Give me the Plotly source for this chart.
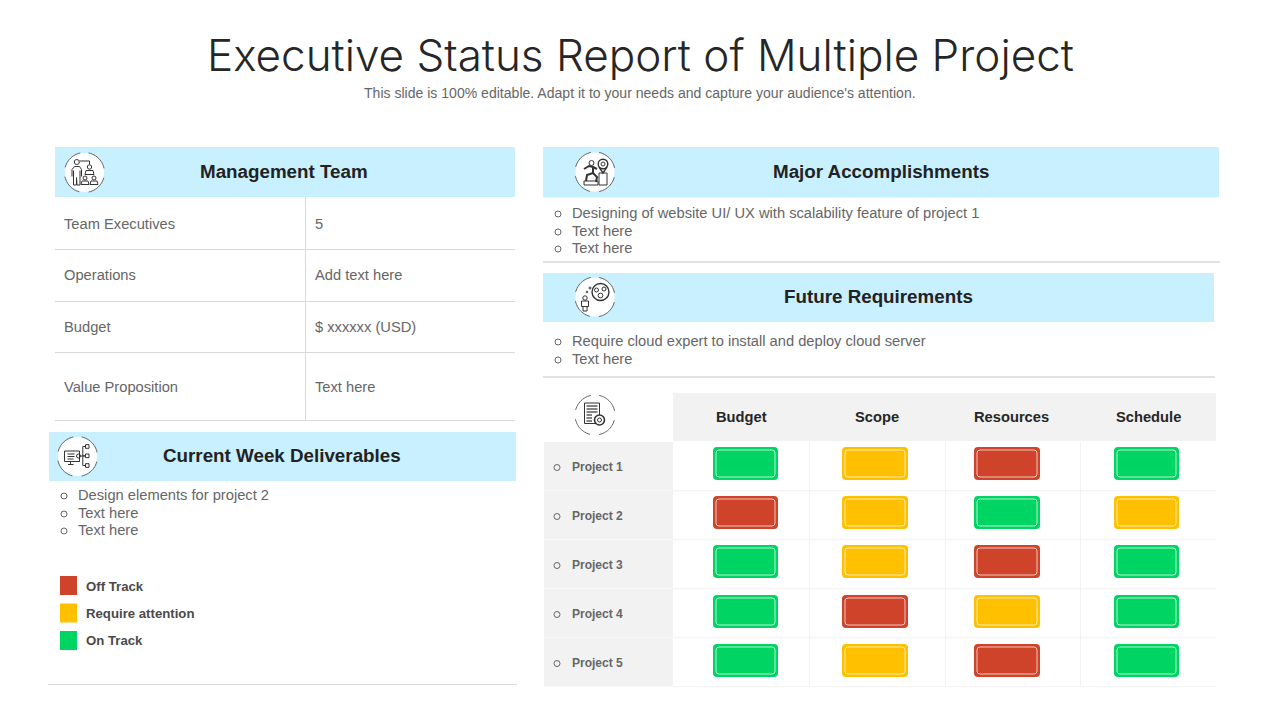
import math
import plotly.graph_objects as go

title = "Executive Status Report of Multiple Project"
subtitle = "This slide is 100% editable. Adapt it to your needs and capture your audience's attention."

team_labels = ["Team Executives", "Operations", "Budget", "Value Proposition"]
team_values = ["5", "Add text here", "$ xxxxxx (USD)", "Text here"]

deliverables = ["Design elements for project 2", "Text here", "Text here"]
accomplishments = ["Designing of website UI/ UX with scalability feature of project 1", "Text here", "Text here"]
requirements = ["Require cloud expert to install and deploy cloud server", "Text here"]

legend_labels = ["Off Track", "Require attention", "On Track"]
legend_status = ["R", "Y", "G"]

columns = ["Budget", "Scope", "Resources", "Schedule"]
projects = ["Project 1", "Project 2", "Project 3", "Project 4", "Project 5"]
status = [
    ["G", "Y", "R", "G"],
    ["R", "Y", "G", "Y"],
    ["G", "Y", "R", "G"],
    ["G", "R", "Y", "G"],
    ["G", "Y", "R", "G"],
]

colors = {"R": "#D0432B", "Y": "#FFC000", "G": "#00D563"}
HEAD_BG = "#C9F0FF"
GREY_BG = "#F2F2F2"
RULE = "#D9D9D9"
BODY = "#666666"
DARK = "#222222"
INK = "#333333"

shapes = []
notes = []


def rect(x0, y0, x1, y1, fill):
    shapes.append(dict(type="rect", x0=x0, y0=y0, x1=x1, y1=y1, fillcolor=fill, line_width=0, layer="below"))


def hline(x0, x1, y, color=RULE, width=1):
    shapes.append(dict(type="line", x0=x0, x1=x1, y0=y, y1=y, layer="below", line=dict(color=color, width=width)))


def vline(x, y0, y1, color=RULE, width=1):
    shapes.append(dict(type="line", x0=x, x1=x, y0=y0, y1=y1, layer="below", line=dict(color=color, width=width)))


def label(x, y, text, size=14.7, color=BODY, bold=False, anchor="left"):
    notes.append(dict(x=x, y=y, text=f"<b>{text}</b>" if bold else text, showarrow=False,
                      xanchor=anchor, yanchor="middle", borderpad=0, borderwidth=0,
                      font=dict(family="Liberation Sans", size=size, color=color)))


def rounded_path(x0, y0, x1, y1, r):
    return (f"M{x0 + r},{y0} L{x1 - r},{y0} Q{x1},{y0} {x1},{y0 + r} L{x1},{y1 - r} Q{x1},{y1} {x1 - r},{y1} "
            f"L{x0 + r},{y1} Q{x0},{y1} {x0},{y1 - r} L{x0},{y0 + r} Q{x0},{y0} {x0 + r},{y0} Z")


def badge(x0, y0, x1, y1, fill):
    shapes.append(dict(type="path", path=rounded_path(x0, y0, x1, y1, 4), fillcolor=fill, line_width=0, layer="below"))
    shapes.append(dict(type="path", path=rounded_path(x0 + 3, y0 + 3, x1 - 3, y1 - 3, 3), layer="below",
                       fillcolor=fill, line=dict(color="rgba(255,255,255,0.7)", width=1)))


def arc_path(cx, cy, r, a0, a1):
    pts = []
    for i in range(13):
        a = math.radians(a0 + (a1 - a0) * i / 12)
        pts.append(f"{cx + r * math.cos(a):.2f},{cy + r * math.sin(a):.2f}")
    return "M" + " L".join(pts)


def circle(cx, cy, r, fill="rgba(0,0,0,0)", color=INK, width=1):
    shapes.append(dict(type="circle", x0=cx - r, x1=cx + r, y0=cy - r, y1=cy + r, fillcolor=fill,
                       line=dict(color=color, width=width)))


def stroke(cx, cy, pts, width=1, close=False):
    path = "M" + " L".join(f"{cx + px},{cy + py}" for px, py in pts) + (" Z" if close else "")
    shapes.append(dict(type="path", path=path, line=dict(color=INK, width=width)))


def box(cx, cy, x0, y0, x1, y1):
    stroke(cx, cy, [(x0, y0), (x1, y0), (x1, y1), (x0, y1)], close=True)


def ring(cx, cy):
    shapes.append(dict(type="circle", x0=cx - 19.5, x1=cx + 19.5, y0=cy - 19.5, y1=cy + 19.5,
                       fillcolor="#FFFFFF", line_width=0))
    for a0, a1 in [(-78, -12), (15, 78), (105, 168), (195, 258)]:
        shapes.append(dict(type="path", path=arc_path(cx, cy, 20, a0, a1), line=dict(color="#666666", width=1)))


def icon_team(cx, cy):
    ring(cx, cy)
    circle(cx - 7.7, cy - 10.5, 2.5)
    stroke(cx, cy, [(-12.5, 4), (-12.5, -3), (-10, -6), (-5, -6), (-3, -3), (-3, 4)])
    stroke(cx, cy, [(-11, -2), (-11, 12.5), (-8, 12.5), (-8, 5), (-7.5, 12.5), (-4.5, 12.5), (-4.5, -2)])
    stroke(cx, cy, [(-5, -11.5), (5, -11.5), (5, -8)])
    circle(cx + 5, cy - 5.5, 2.2)
    stroke(cx, cy, [(0.5, 2), (1.5, -2), (8.5, -2), (9.5, 2)], close=True)
    for dx in (0.5, 9.5):
        circle(cx + dx, cy + 5.5, 2)
        stroke(cx, cy, [(dx - 4, 12), (dx - 3, 8.5), (dx + 3, 8.5), (dx + 4, 12)], close=True)


def icon_climb(cx, cy):
    ring(cx, cy)
    circle(cx - 3.5, cy - 9, 2.5)
    stroke(cx, cy, [(-11, -3), (-6, -6), (-2, -5), (-2, 1), (-8, 3), (-9, 9)], width=2)
    stroke(cx, cy, [(-2, 1), (2, 5), (1, 10)], width=2)
    stroke(cx, cy, [(-2, -5), (2, -3)], width=2)
    circle(cx + 8, cy - 8, 4.8, width=1.4)
    circle(cx + 8, cy - 8, 2)
    stroke(cx, cy, [(4, -5), (8, 1), (12, -5)], width=1.4)
    box(cx, cy, 4, 1, 12, 13)
    box(cx, cy, -11, 9, 3, 13)


def icon_future(cx, cy):
    ring(cx, cy)
    circle(cx - 10, cy + 1, 2.2)
    box(cx, cy, -13.5, 4, -6.5, 9.5)
    stroke(cx, cy, [(-12, 9.5), (-12, 14), (-8, 14), (-8, 9.5)])
    circle(cx + 5.5, cy - 5, 8.5, width=1.4)
    circle(cx + 1.5, cy - 7, 2)
    circle(cx + 9, cy - 8, 2)
    circle(cx + 5.5, cy - 1.5, 2.4)
    circle(cx - 5, cy - 9, 1)
    circle(cx - 8, cy - 5, 0.8)


def icon_deliver(cx, cy):
    ring(cx, cy)
    box(cx, cy, -13, -5.5, 2, 5)
    stroke(cx, cy, [(-10, -2.5), (-3, -2.5)])
    stroke(cx, cy, [(-10, 0), (-3, 0)])
    stroke(cx, cy, [(-10, 2.5), (-4, 2.5)])
    stroke(cx, cy, [(-7, 5), (-7, 8)])
    stroke(cx, cy, [(-9.5, 8), (-4, 8)])
    circle(cx + 1, cy - 0.5, 2)
    stroke(cx, cy, [(3, -0.5), (8, -0.5)])
    stroke(cx, cy, [(5.3, -10), (5.3, 9)])
    for dy in (-10, -0.7, 9):
        stroke(cx, cy, [(5.3, dy), (8, dy)])
        box(cx, cy, 8, dy - 1.8, 11.5, dy + 1.8)


def icon_doc(cx, cy):
    ring(cx, cy)
    box(cx, cy, -10.5, -12, 4.5, 8.5)
    for i, dy in enumerate((-9, -6, -3, 0, 3, 6)):
        stroke(cx, cy, [(-8.5, dy), (2.5 if i < 3 else -3, dy)], width=1.2)
    circle(cx + 4.5, cy + 5, 5, fill="#FFFFFF", width=1.6)
    circle(cx + 4.5, cy + 5, 2)


# title
notes.append(dict(x=640.5, y=55, text=title, showarrow=False, xanchor="center", yanchor="middle", borderwidth=0,
                  font=dict(family="Inter", size=44, color="#262626", weight=300)))
label(639.5, 93, subtitle, size=14.05, anchor="center")

# management team table
rect(55, 147, 515, 197, HEAD_BG)
icon_team(84.5, 172.5)
label(284, 171.5, "Management Team", size=18.8, color=DARK, bold=True, anchor="center")
team_rules = [249.5, 301.5, 352.5, 420.5]
team_y = [224, 275, 327, 387]
for y in team_rules:
    hline(55, 515, y)
vline(305.5, 197, 420)
for y, a, b in zip(team_y, team_labels, team_values):
    label(64, y, a)
    label(315, y, b)

# deliverables and legend
rect(49, 432, 516, 481, HEAD_BG)
icon_deliver(77.5, 456.5)
label(282, 455.5, "Current Week Deliverables", size=18.8, color=DARK, bold=True, anchor="center")
deliver_y = [495, 513, 530]
for y, t in zip(deliver_y, deliverables):
    label(78, y, t)
legend_y = [585.5, 613, 640.5]
legend_text_y = [586, 613, 640.5]
for y, ty, t, s in zip(legend_y, legend_text_y, legend_labels, legend_status):
    rect(60, y - 9.5, 77, y + 9.5, colors[s])
    label(86, ty, t, size=13.2, color="#4A4A4A", bold=True)
hline(48, 517, 684.5)

# accomplishments
rect(543, 147, 1219, 197.5, HEAD_BG)
icon_climb(595, 172)
label(881, 171.5, "Major Accomplishments", size=18.8, color=DARK, bold=True, anchor="center")
accomp_y = [213, 231, 248]
for y, t in zip(accomp_y, accomplishments):
    label(572, y, t)
hline(543, 1220, 262, width=1.5)

# future requirements
rect(543, 273, 1214, 322, HEAD_BG)
icon_future(595, 297)
label(878, 296.5, "Future Requirements", size=18.8, color=DARK, bold=True, anchor="center")
req_y = [341, 359]
for y, t in zip(req_y, requirements):
    label(572, y, t)
hline(543, 1215, 377, width=1.5)

# status grid
icon_doc(595, 415)
rect(673, 393, 1216, 441, GREY_BG)
col_x = [741, 877, 1011, 1148]
for x, c in zip(col_x, columns):
    label(x, 417, c, size=14.7, color="#262626", bold=True, anchor="center")
row_tops = [442, 491, 540, 589, 638]
badge_tops = [447, 496, 545, 595, 644]
row_h = 48.5
badge_h = 33
badge_x = [(713, 778), (842, 908), (974, 1040), (1114, 1179)]
for x in (809.5, 945.5, 1080.5):
    vline(x, 442, 687, color="#F2F2F2", width=1)
for top, b_top, p, row in zip(row_tops, badge_tops, projects, status):
    rect(544, top, 673, top + row_h, GREY_BG)
    hline(673, 1216, top + row_h + 0.25, color="#F2F2F2", width=1)
    label(572, top + 24.5, p, size=12, bold=True)
    for (x0, x1), s in zip(badge_x, row):
        badge(x0, b_top, x1, b_top + badge_h, colors[s])

# hollow bullets
bullet_x = [64] * len(deliver_y) + [558] * len(accomp_y) + [558] * len(req_y) + [557] * len(row_tops)
bullet_y = ([y + 1 for y in deliver_y] + [y + 1 for y in accomp_y] + [y + 1 for y in req_y]
            + [top + 25.5 for top in row_tops])

fig = go.Figure()
fig.add_trace(go.Scatter(x=bullet_x, y=bullet_y, mode="markers", hoverinfo="skip", showlegend=False,
                         marker=dict(symbol="circle-open", size=6, color="#666666", line=dict(width=1))))
fig.update_layout(
    width=1280, height=720, margin=dict(l=0, r=0, t=0, b=0),
    paper_bgcolor="white", plot_bgcolor="white", showlegend=False,
    xaxis=dict(range=[0, 1280], visible=False, fixedrange=True),
    yaxis=dict(range=[720, 0], visible=False, fixedrange=True),
    shapes=shapes, annotations=notes,
)
fig.write_html("out.html", config=dict(displayModeBar=False),
               post_script="document.body.style.margin='0';")
